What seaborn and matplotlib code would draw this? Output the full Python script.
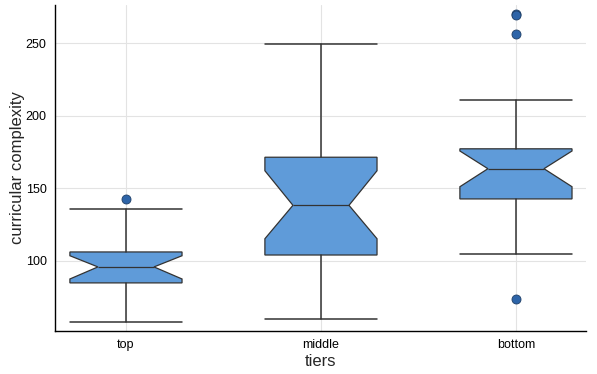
import matplotlib
matplotlib.use('Agg')
import matplotlib.pyplot as plt
import seaborn as sns

# Valores
tiers = ['top', 'middle', 'bottom']
whislo = [58.0, 60.1, 104.8]
q1 = [84.9, 104.1, 142.7]
med = [95.9, 138.3, 163.5]
q3 = [106.2, 171.4, 177.2]
whishi = [135.8, 249.3, 210.5]
cilo = [87.6, 115.3, 151.1]
cihi = [103.6, 162.1, 175.7]
fliers = [[142.7], [], [270.2, 269.6, 256.4, 74.0]]

sns.set_style('whitegrid')
plt.rcParams['font.family'] = ['Liberation Sans', 'DejaVu Sans']

stats = []
for i, t in enumerate(tiers):
    stats.append({'label': t, 'whislo': whislo[i], 'q1': q1[i], 'med': med[i],
                  'q3': q3[i], 'whishi': whishi[i], 'cilo': cilo[i],
                  'cihi': cihi[i], 'fliers': fliers[i]})

fig = plt.figure(figsize=(5.97, 3.74), dpi=100)
ax = fig.add_axes([0.0921, 0.115, 0.8894, 0.8717])

box_color = '#5f9bd9'
line_color = '#333333'
ax.bxp(stats, positions=range(len(tiers)), widths=0.575, shownotches=True,
       patch_artist=True,
       boxprops=dict(facecolor=box_color, edgecolor=line_color, linewidth=0.9),
       medianprops=dict(color=line_color, linewidth=0.9),
       whiskerprops=dict(color=line_color, linewidth=1.1),
       capprops=dict(color=line_color, linewidth=1.1),
       capwidths=0.575,
       flierprops=dict(marker='o', markersize=6.5, markerfacecolor='#2d64a8',
                       markeredgecolor='#1f3f66', markeredgewidth=0.6))

ax.set_xlim(-0.364, 2.359)
ax.set_ylim(51.8, 276.2)
ax.set_yticks([100, 150, 200, 250])
ax.set_xticks(range(len(tiers)))
ax.set_xticklabels(tiers)

ax.grid(True, color='#e3e3e3', linewidth=0.8)
ax.set_axisbelow(True)
for side in ['top', 'right']:
    ax.spines[side].set_visible(False)
for side in ['left', 'bottom']:
    ax.spines[side].set_color('black')
    ax.spines[side].set_linewidth(1.0)
ax.tick_params(axis='both', direction='in', length=3, width=0.6, color='#888888',
               labelsize=9, labelcolor='black', pad=6)

ax.set_xlabel('tiers', fontsize=12, labelpad=2)
ax.set_ylabel('curricular complexity', fontsize=12, labelpad=0.5)

fig.savefig('out.png', dpi=100)
